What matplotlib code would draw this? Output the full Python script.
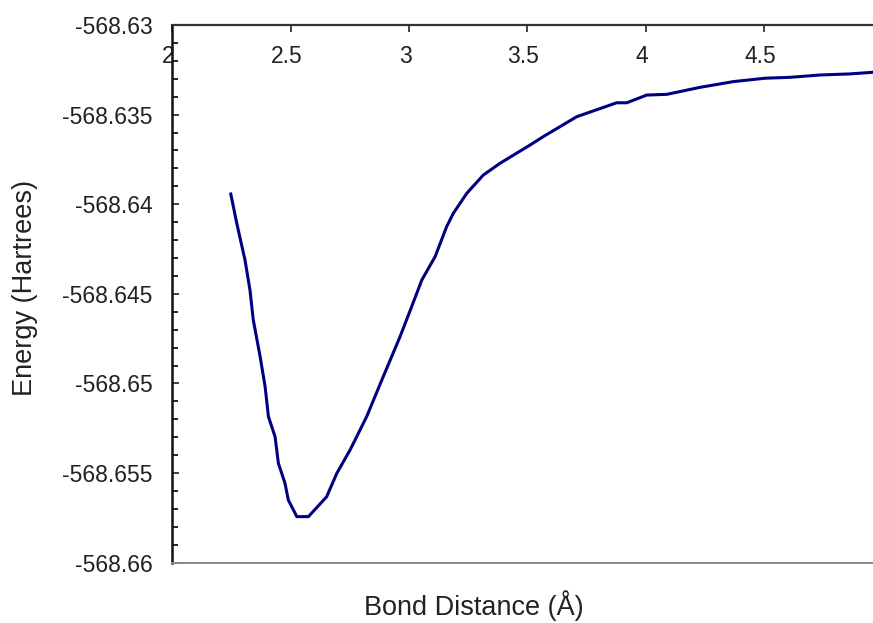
"""Bond-distance energy scan."""
import matplotlib.pyplot as plt
from matplotlib.ticker import MultipleLocator
from matplotlib.transforms import ScaledTranslation

plt.rcParams['font.family'] = ['Liberation Sans', 'DejaVu Sans']

# bond distance (Å)
distance = [2.247, 2.272, 2.307, 2.328, 2.342, 2.371, 2.392, 2.406, 2.434,
            2.448, 2.476, 2.490, 2.526, 2.575, 2.652, 2.695, 2.751, 2.821,
            2.891, 2.962, 3.011, 3.054, 3.110, 3.159, 3.187, 3.244, 3.314,
            3.384, 3.511, 3.567, 3.708, 3.877, 3.920, 4.004, 4.089, 4.229,
            4.370, 4.504, 4.610, 4.736, 4.863, 5.000]
# energy (Hartrees)
energy = [-568.63943, -568.64105, -568.64311, -568.64479, -568.64646,
          -568.64851, -568.65018, -568.65185, -568.65297, -568.65445,
          -568.65557, -568.65650, -568.65743, -568.65743, -568.65632,
          -568.65501, -568.65371, -568.65185, -568.64962, -568.64739,
          -568.64572, -568.64423, -568.64293, -568.64125, -568.64051,
          -568.63939, -568.63837, -568.63772, -568.63670, -568.63623,
          -568.63512, -568.63434, -568.63434, -568.63391, -568.63387,
          -568.63348, -568.63316, -568.63297, -568.63292, -568.63279,
          -568.63273, -568.63260]

x_ticks = [2, 2.5, 3, 3.5, 4, 4.5, 5]
x_labels = ["2", "2.5", "3", "3.5", "4", "4.5", "5"]
y_ticks = [-568.63, -568.635, -568.64, -568.645, -568.65, -568.655, -568.66]
y_labels = ["-568.63", "-568.635", "-568.64", "-568.645", "-568.65",
            "-568.655", "-568.66"]

fig = plt.figure(figsize=(8.73, 6.23), dpi=100)
ax = fig.add_axes([0.1974, 0.0968, 0.8134, 0.8631])

ax.plot(distance, energy, color="#000080", linewidth=2.2)

ax.set_xlim(2, 5)
ax.set_ylim(-568.66, -568.63)

ax.set_xticks(x_ticks)
ax.set_xticklabels(x_labels)
ax.set_yticks(y_ticks)
ax.set_yticklabels(y_labels)
ax.yaxis.set_minor_locator(MultipleLocator(0.001))

ax.tick_params(axis="x", direction="in", top=True, bottom=False,
               labeltop=True, labelbottom=False, length=5, width=1.2,
               pad=-31, labelsize=16.5, colors="#222222")
ax.tick_params(axis="y", which="major", direction="in", length=5,
               width=1.2, pad=14.4, labelsize=16.5, colors="#222222")
ax.tick_params(axis="y", which="minor", direction="in", length=4,
               width=1.2)

# the old plot drew x labels a few pixels left of their ticks
shift = ScaledTranslation(-4 / 100, 0, fig.dpi_scale_trans)
for tick in ax.xaxis.get_major_ticks():
    tick.label2.set_transform(tick.label2.get_transform() + shift)

ax.spines["right"].set_visible(False)
ax.spines["top"].set_color("#333333")
ax.spines["top"].set_linewidth(1.6)
ax.spines["left"].set_color("#111111")
ax.spines["left"].set_linewidth(1.8)
ax.spines["bottom"].set_color("#8a8a8a")
ax.spines["bottom"].set_linewidth(1.4)

ax.set_xlabel("Bond Distance (Å)", fontsize=19.5, color="#222222")
ax.set_ylabel("Energy (Hartrees)", fontsize=19.5, color="#222222",
              va="center")
ax.xaxis.set_label_coords(0.424, -0.0508)
ax.yaxis.set_label_coords(-0.208, 0.511)

plt.savefig("out.png", dpi=100)
plt.close()
